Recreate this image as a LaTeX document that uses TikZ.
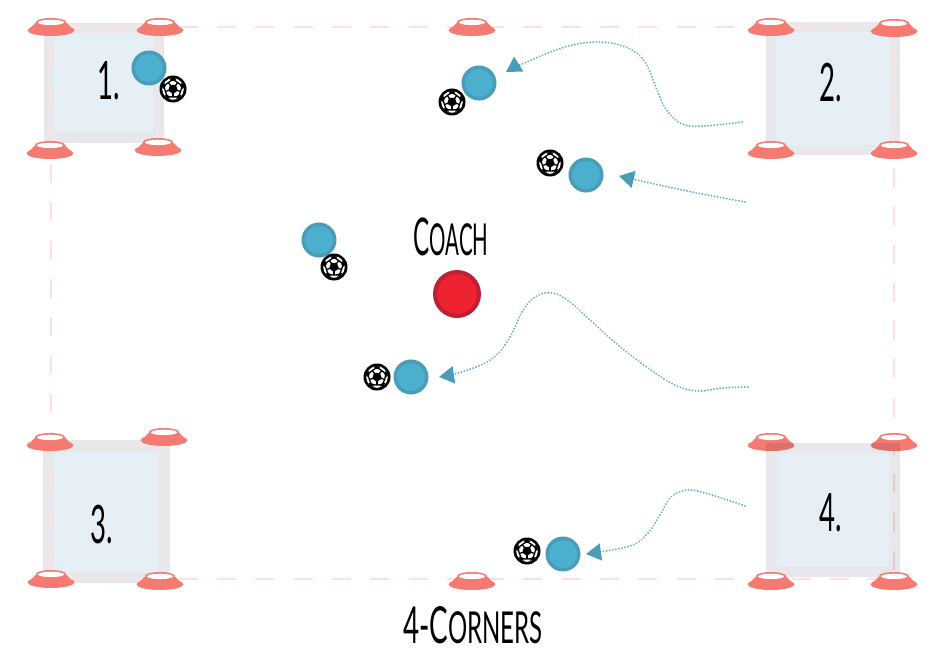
\documentclass[tikz,border=0pt]{standalone}
\usepackage{fontspec}
\usetikzlibrary{arrows.meta}
\newfontfamily\handfont[FakeStretch=0.52]{Lato}
\newfontfamily\handcoach[FakeStretch=0.465]{Lato}
\newfontfamily\handtitle[FakeStretch=0.545]{Lato}
\definecolor{zoneout}{HTML}{E8E8EC}
\definecolor{zonein}{HTML}{E6EEF6}
\definecolor{fieldpink}{HTML}{FFDFDF}
\definecolor{conecol}{HTML}{F57B72}
\definecolor{playerfill}{HTML}{4BAFCE}
\definecolor{playerline}{HTML}{4A9DB9}
\definecolor{flowcol}{HTML}{62AECB}
\definecolor{coachfill}{HTML}{EE2230}
\definecolor{coachline}{HTML}{BE2035}
\tikzset{
  player/.style={circle,draw=playerline,fill=playerfill,line width=3.5pt,minimum size=31.5pt,inner sep=0pt},
  coachdot/.style={circle,draw=coachline,fill=coachfill,line width=4pt,minimum size=44pt,inner sep=0pt},
  fieldline/.style={fieldpink,line width=2.4pt,dash pattern=on 19pt off 19.3pt},
  flow/.style={flowcol,line width=2pt,line cap=round,dash pattern=on 0.1pt off 3pt,
    -{Triangle[length=15pt,width=17pt,color=playerline,fill=playerline,sep=0pt]}},
  handtext/.style={inner sep=0pt,font=\handfont,text=black},
  cone/.pic={
    \fill[conecol] (0,3.3) ellipse [x radius=23.5,y radius=5.7];
    \fill[conecol] (-20.5,1) -- (-14.5,-5) -- (14.5,-5) -- (20.5,1) -- cycle;
    \fill[conecol] (0,-5) ellipse [x radius=15,y radius=4];
    \fill[white] (0,-4.6) ellipse [x radius=13,y radius=2.7];
  },
  ball/.pic={
    \fill[black] (0,0) circle [radius=13.5];
    \fill[white] (0,0) circle [radius=10.8];
    \fill[black] (90:5) -- (162:5) -- (234:5) -- (306:5) -- (18:5) -- cycle;
    \foreach \a in {90,162,234,306,18} {
      \draw[black,line width=1.3pt] (\a:4.4) -- (\a:8);
      \draw[black,line width=1.3pt] (\a:8) -- (\a+36:9.5) (\a:8) -- (\a-36:9.5);
      \fill[black] (\a+36:12) -- (\a+18:10) -- (\a+36:7.8) -- (\a+54:10) -- cycle;
    }
  }
}
\begin{document}
\begin{tikzpicture}[x=1pt,y=-1pt]
\useasboundingbox (0,0) rectangle (948,666);
% zones 1-3
\fill[zoneout] (44,23) rectangle (164,143);
\fill[zonein] (54,33) rectangle (153,133);
\fill[zoneout] (766,22) rectangle (900,155);
\fill[zonein] (776,32) rectangle (889,145);
\fill[zoneout] (43,440) rectangle (170,583);
\fill[zonein] (54,452) rectangle (158,572);
% field
\coordinate (ftl) at (51,27);
\coordinate (ftr) at (894,27);
\coordinate (fbl) at (51,579);
\coordinate (fbr) at (894,579);
\draw[fieldline,dash phase=25.5pt] (ftl) -- (ftr);
\draw[fieldline,dash phase=25.5pt] (fbl) -- (fbr);
\draw[fieldline,dash phase=16.3pt] (ftl) -- (fbl);
\draw[fieldline,dash phase=12.3pt] (ftr) -- (fbr);
% cones
\foreach \p in {(51,27),(160,27),(50,150),(158,147),(472,27),(771,27),(894,28),(771,150),(894,150),(50,442),(164,437),(51,579),(160,581),(771,442),(894,442),(472,581)}
  \pic at \p {cone};
% zone 4 (laid over its upper cones)
\begin{scope}[blend mode=multiply]
\fill[zoneout,even odd rule] (766,443) rectangle (900,577) (776,453) rectangle (889,566);
\fill[zonein] (776,453) rectangle (889,566);
\end{scope}
\foreach \p in {(771,581),(894,581)}
  \pic at \p {cone};
% labels
\node[handtext,font=\handfont\fontsize{53}{60}\selectfont] (n1) at (109,81) {1.};
\node[handtext,font=\handfont\fontsize{53}{60}\selectfont] (n2) at (831,83) {2.};
\node[handtext,font=\handfont\fontsize{53}{60}\selectfont] (n3) at (102,525) {3.};
\node[handtext,font=\handfont\fontsize{53}{60}\selectfont] (n4) at (831,513) {4.};
\node[handtext,font=\handcoach\fontsize{52}{60}\selectfont] (coachlabel) at (451,237) {C{\fontsize{44}{50}\selectfont OACH}};
\node[handtext,font=\handtitle\fontsize{51}{60}\selectfont] (title) at (473,625) {4-C{\fontsize{44}{50}\selectfont ORNERS}};
% players
\node[coachdot] (coach) at (457,294) {};
\node[player] (p1) at (149,68) {};
\node[player] (p2) at (479,83) {};
\node[player] (p3) at (586,175) {};
\node[player] (p4) at (319,240) {};
\node[player] (p5) at (411,377) {};
\node[player] (p6) at (563,554) {};
\pic at (173,89) {ball};
\pic at (452,102) {ball};
\pic at (550,163) {ball};
\pic at (334,267) {ball};
\pic at (377,377) {ball};
\pic at (527,551) {ball};
% runs
\coordinate (s1) at (742,122);
\coordinate (e1) at (506,72);
\coordinate (s2) at (745,202);
\coordinate (e2) at (619,176);
\coordinate (s3) at (748,387);
\coordinate (e3) at (439,377);
\coordinate (s4) at (745,506);
\coordinate (e4) at (586,554);
\draw[flow] plot[smooth,tension=0.6] coordinates {(s1) (690,126) (668,112) (657,90) (645,62) (628,48) (600,42) (565,47) (522,64) (e1)};
\draw[flow] plot[smooth,tension=0.6] coordinates {(s2) (697,193) (650,183) (e2)};
\draw[flow] plot[smooth,tension=0.7] coordinates {(s3) (722,388) (698,391) (675,385) (648,368) (618,345) (590,320) (570,302) (552,293) (535,297) (522,312) (510,337) (493,358) (465,371) (e3)};
\draw[flow] plot[smooth,tension=0.6] coordinates {(s4) (715,496) (690,490) (672,496) (660,515) (648,533) (630,546) (e4)};
\end{tikzpicture}
\end{document}
